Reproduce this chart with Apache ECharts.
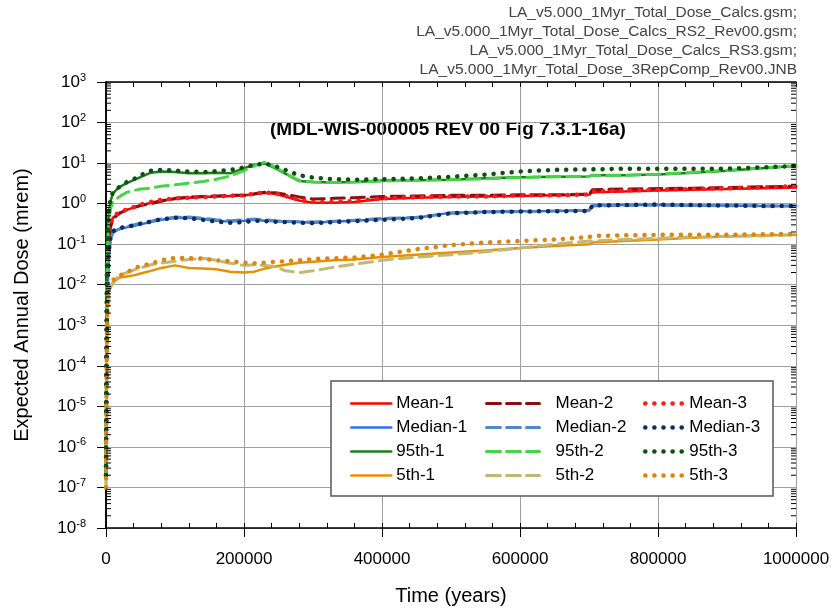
<!DOCTYPE html>
<html>
<head>
<meta charset="utf-8">
<script src="https://cdn.jsdelivr.net/npm/echarts@6/dist/echarts.min.js"></script>
</head>
<body style="margin:0;background:#fff">
<div id="main" style="width: 838px;height:612px;"></div>
<script type="text/javascript">
    // time steps (years)
    var years = [0, 1000, 2000, 4000, 7000, 10000, 15000, 20000, 30000, 40000, 50000, 65000, 80000, 100000,
        120000, 140000, 160000, 180000, 200000, 215000, 230000, 245000, 260000, 280000, 300000, 330000, 360000,
        400000, 450000, 500000, 550000, 600000, 650000, 700000, 705000, 750000, 800000, 850000, 900000, 950000, 1000000];

    // expected annual dose (mrem)
    var mean1 = [2e-7, 0.001, 0.02, 0.12, 0.3, 0.45, 0.52, 0.6, 0.7, 0.8, 0.9, 1.05, 1.2, 1.3, 1.4, 1.45, 1.5, 1.55,
        1.6, 1.7, 1.85, 1.75, 1.5, 1.2, 1.05, 1.05, 1.1, 1.3, 1.4, 1.45, 1.5, 1.55, 1.6, 1.65, 1.9, 2.0, 2.1, 2.2, 2.3, 2.4, 2.5];
    var median1 = [2e-7, 3e-4, 0.005, 0.06, 0.15, 0.2, 0.22, 0.24, 0.26, 0.28, 0.31, 0.35, 0.4, 0.44, 0.45, 0.42, 0.38, 0.36,
        0.38, 0.4, 0.38, 0.37, 0.36, 0.35, 0.34, 0.36, 0.38, 0.42, 0.45, 0.6, 0.63, 0.65, 0.66, 0.68, 0.9, 0.92, 0.93, 0.9, 0.9, 0.88, 0.88];
    var p95_1 = [2e-7, 0.01, 0.1, 0.6, 1.2, 1.8, 2.2, 2.6, 3.2, 3.8, 4.5, 5.8, 6.2, 6.0, 5.6, 5.6, 5.8, 5.6,
        7.5, 9.0, 9.8, 7.5, 5.5, 3.6, 3.4, 3.3, 3.4, 3.7, 3.8, 3.9, 4.2, 4.5, 4.6, 4.7, 5.0, 5.0, 5.2, 5.8, 6.5, 7.5, 8.5];
    var p5_1 = [1e-7, 1e-4, 0.002, 0.007, 0.009, 0.011, 0.013, 0.015, 0.016, 0.017, 0.019, 0.022, 0.026, 0.03, 0.026, 0.025, 0.024, 0.021,
        0.02, 0.021, 0.025, 0.028, 0.031, 0.035, 0.037, 0.04, 0.042, 0.048, 0.055, 0.062, 0.07, 0.08, 0.09, 0.1, 0.11, 0.12, 0.13, 0.145, 0.155, 0.165, 0.17];

    var mean2 = [2e-7, 0.001, 0.018, 0.12, 0.28, 0.4, 0.5, 0.58, 0.7, 0.8, 0.9, 1.0, 1.15, 1.35, 1.45, 1.5, 1.55, 1.6,
        1.6, 1.75, 1.9, 1.85, 1.7, 1.45, 1.3, 1.35, 1.4, 1.5, 1.55, 1.6, 1.6, 1.65, 1.65, 1.7, 2.2, 2.3, 2.35, 2.4, 2.5, 2.6, 2.7];
    var median2 = [2e-7, 2.5e-4, 0.004, 0.05, 0.14, 0.19, 0.22, 0.24, 0.27, 0.3, 0.33, 0.37, 0.42, 0.46, 0.47, 0.44, 0.4, 0.38,
        0.4, 0.42, 0.4, 0.38, 0.37, 0.36, 0.35, 0.37, 0.39, 0.43, 0.46, 0.58, 0.62, 0.64, 0.66, 0.68, 0.88, 0.9, 0.92, 0.9, 0.89, 0.88, 0.87];
    var p95_2 = [2e-7, 0.008, 0.08, 0.4, 0.8, 1.1, 1.3, 1.5, 1.9, 2.1, 2.3, 2.4, 2.7, 2.9, 3.2, 3.5, 4.0, 4.8,
        6.5, 8.5, 10.5, 8.0, 5.6, 3.7, 3.4, 3.3, 3.4, 3.6, 3.8, 3.9, 4.1, 4.4, 4.6, 4.7, 5.0, 5.0, 5.3, 5.9, 6.6, 7.6, 8.6];
    var p5_2 = [1e-7, 1e-4, 0.002, 0.006, 0.009, 0.011, 0.014, 0.017, 0.02, 0.023, 0.026, 0.031, 0.034, 0.038, 0.042, 0.045, 0.04, 0.034,
        0.03, 0.031, 0.03, 0.028, 0.022, 0.02, 0.022, 0.027, 0.032, 0.04, 0.048, 0.055, 0.065, 0.08, 0.1, 0.12, 0.12, 0.13, 0.14, 0.15, 0.155, 0.16, 0.17];

    var mean3 = [2e-7, 0.0012, 0.022, 0.15, 0.32, 0.48, 0.55, 0.62, 0.72, 0.82, 0.95, 1.1, 1.25, 1.35, 1.4, 1.45, 1.5, 1.55,
        1.6, 1.75, 1.9, 1.8, 1.55, 1.25, 1.1, 1.1, 1.15, 1.35, 1.45, 1.5, 1.5, 1.6, 1.6, 1.7, 2.0, 2.1, 2.2, 2.3, 2.4, 2.5, 2.7];
    var median3 = [2e-7, 3.5e-4, 0.006, 0.07, 0.16, 0.21, 0.23, 0.25, 0.27, 0.29, 0.32, 0.36, 0.41, 0.45, 0.44, 0.4, 0.36, 0.34,
        0.35, 0.38, 0.37, 0.36, 0.35, 0.34, 0.33, 0.35, 0.37, 0.4, 0.44, 0.58, 0.62, 0.64, 0.65, 0.66, 0.9, 0.93, 0.95, 0.92, 0.9, 0.88, 0.88];
    var p95_3 = [2e-7, 0.012, 0.12, 0.7, 1.4, 1.9, 2.3, 2.6, 3.4, 4.0, 5.0, 6.5, 6.8, 6.5, 6.2, 6.0, 6.3, 6.8,
        7.8, 9.0, 9.8, 8.5, 6.8, 5.0, 4.4, 4.0, 3.9, 4.0, 4.2, 4.6, 5.2, 6.2, 6.8, 7.0, 7.0, 7.3, 7.3, 7.2, 7.3, 7.8, 8.5];
    var p5_3 = [1e-7, 1.5e-4, 0.003, 0.008, 0.011, 0.013, 0.015, 0.017, 0.02, 0.025, 0.029, 0.033, 0.04, 0.046, 0.045, 0.044, 0.04, 0.038,
        0.035, 0.034, 0.035, 0.037, 0.038, 0.04, 0.043, 0.045, 0.047, 0.055, 0.075, 0.095, 0.11, 0.12, 0.13, 0.15, 0.16, 0.165, 0.17, 0.17, 0.17, 0.175, 0.18];

    var fileNames = [
        'LA_v5.000_1Myr_Total_Dose_Calcs.gsm;',
        'LA_v5.000_1Myr_Total_Dose_Calcs_RS2_Rev00.gsm;',
        'LA_v5.000_1Myr_Total_Dose_Calcs_RS3.gsm;',
        'LA_v5.000_1Myr_Total_Dose_3RepComp_Rev00.JNB'
    ];

    var FONT = 'Liberation Sans, Arial, sans-serif';
    var SOLID = 'solid';
    var DASH = [13, 7];
    var DOT = [0.1, 9];

    // name, values, colour, dash, width
    var lines = [
        ['Mean-1', mean1, '#ff0000', SOLID, 2.5],
        ['Median-1', median1, '#2f6fe6', SOLID, 2.5],
        ['95th-1', p95_1, '#1a7f1a', SOLID, 2.5],
        ['5th-1', p5_1, '#e89000', SOLID, 2.5],
        ['Mean-2', mean2, '#8b1010', DASH, 3],
        ['Median-2', median2, '#5089c6', DASH, 3],
        ['95th-2', p95_2, '#44d444', DASH, 3],
        ['5th-2', p5_2, '#c2b874', DASH, 3],
        ['Mean-3', mean3, '#ff1a1a', DOT, 4.5],
        ['Median-3', median3, '#102c5e', DOT, 4.5],
        ['95th-3', p95_3, '#0c520c', DOT, 4.5],
        ['5th-3', p5_3, '#e0840a', DOT, 4.5]
    ];

    var series = lines.map(function (l) {
        return {
            name: l[0],
            type: 'line',
            symbol: 'none',
            showSymbol: false,
            silent: true,
            z: 3,
            lineStyle: {color: l[2], width: l[4], type: l[3], cap: 'round'},
            itemStyle: {color: l[2]},
            data: years.map(function (t, i) { return [t, l[1][i]]; })
        };
    });

    // log minor ticks (2..9 x 10^k) on left and right axes
    var minorVals = [];
    for (var k = -8; k < 3; k++) {
        for (var m = 2; m < 10; m++) minorVals.push([0, m * Math.pow(10, k)]);
    }
    series.push({
        type: 'custom',
        silent: true,
        z: 4,
        renderItem: function (params, api) {
            var y = api.coord([0, api.value(1)])[1];
            var x0 = params.coordSys.x, x1 = x0 + params.coordSys.width;
            return {
                type: 'group',
                children: [
                    {type: 'line', shape: {x1: x0, y1: y, x2: x0 + 5, y2: y}, style: {stroke: '#000', lineWidth: 1}},
                    {type: 'line', shape: {x1: x1 - 5, y1: y, x2: x1, y2: y}, style: {stroke: '#000', lineWidth: 1}}
                ]
            };
        },
        data: minorVals
    });

    // first, last, left, text padding, icon width, dash, line width
    var legendCols = [[0, 4, 345, 0, 40, SOLID, 2.5], [4, 8, 480, 11, 53, [14, 6], 3], [8, 12, 638, 0, 39, [0.1, 9], 4.5]];
    var legends = legendCols.map(function (c) {
        return {
            orient: 'vertical',
            left: c[2],
            top: 390,
            z: 10,
            itemWidth: c[4],
            itemHeight: 14,
            itemGap: 7,
            selectedMode: false,
            itemStyle: {opacity: 0},
            lineStyle: {width: c[6], type: c[5], cap: 'round'},
            textStyle: {fontSize: 17, lineHeight: 14, color: '#000', fontFamily: FONT, padding: [0, 0, 0, c[3]]},
            data: lines.slice(c[0], c[1]).map(function (l) { return l[0]; })
        };
    });

    var graphics = [{
        type: 'rect',
        shape: {x: 331, y: 381, width: 442, height: 115},
        style: {fill: '#fff', stroke: '#555', lineWidth: 1.5},
        z: 5
    }, {
        type: 'text',
        left: 270,
        top: 120,
        style: {text: '(MDL-WIS-000005 REV 00 Fig 7.3.1-16a)', font: 'bold 19px ' + FONT, fill: '#000'}
    }];
    fileNames.forEach(function (f, i) {
        graphics.push({
            type: 'text',
            x: 797,
            y: 13 + i * 19,
            style: {text: f, font: '15.5px ' + FONT, fill: '#444', align: 'right', verticalAlign: 'middle'}
        });
    });

    var myChart = echarts.init(document.getElementById('main'));
    var option = {
        backgroundColor: '#fff',
        animation: false,
        grid: {left: 106, right: 42, top: 82, bottom: 84, containLabel: false},
        graphic: graphics,
        legend: legends,
        xAxis: [{
            type: 'value',
            min: 0,
            max: 1000000,
            interval: 200000,
            position: 'bottom',
            name: 'Time (years)',
            nameLocation: 'middle',
            nameGap: 58,
            nameTextStyle: {fontSize: 20, color: '#000', fontFamily: FONT},
            axisLine: {lineStyle: {color: '#000', width: 1.5}},
            axisTick: {inside: false, length: 9, lineStyle: {color: '#000'}},
            axisLabel: {
                fontSize: 17, color: '#000', margin: 23, fontFamily: FONT,
                formatter: function (v) { return String(v); }
            },
            splitLine: {show: true, lineStyle: {color: '#a0a0a0', width: 1}}
        }, {
            type: 'value',
            min: 0,
            max: 1000000,
            interval: 40000,
            position: 'bottom',
            axisLine: {show: false},
            axisTick: {inside: true, length: 5, lineStyle: {color: '#000'}},
            axisLabel: {show: false},
            splitLine: {show: false}
        }, {
            type: 'value',
            min: 0,
            max: 1000000,
            interval: 40000,
            position: 'top',
            axisLine: {lineStyle: {color: '#000', width: 1.5}},
            axisTick: {inside: true, length: 5, lineStyle: {color: '#000'}},
            axisLabel: {show: false},
            splitLine: {show: false}
        }],
        yAxis: [{
            type: 'log',
            logBase: 10,
            min: 1e-8,
            max: 1e3,
            interval: 1,
            position: 'left',
            name: 'Expected Annual Dose (mrem)',
            nameLocation: 'middle',
            nameGap: 74,
            nameRotate: 90,
            nameTextStyle: {fontSize: 20, color: '#000', fontFamily: FONT},
            axisLine: {show: true, lineStyle: {color: '#000', width: 1.5}},
            axisTick: {show: true, inside: false, length: 9, lineStyle: {color: '#000'}},
            axisLabel: {
                margin: 20,
                fontFamily: FONT,
                formatter: function (v) {
                    var e = Math.round(Math.log(v) / Math.LN10);
                    return '{b|10}{s|' + e + '}';
                },
                rich: {
                    b: {fontSize: 17, color: '#000', fontFamily: FONT},
                    s: {fontSize: 11, color: '#000', fontFamily: FONT, padding: [0, 0, 9, 0]}
                }
            },
            splitLine: {show: true, lineStyle: {color: '#a0a0a0', width: 1}}
        }, {
            type: 'log',
            logBase: 10,
            min: 1e-8,
            max: 1e3,
            interval: 1,
            position: 'right',
            axisLine: {show: true, lineStyle: {color: '#000', width: 1.5}},
            axisTick: {show: true, inside: true, length: 8, lineStyle: {color: '#000'}},
            axisLabel: {show: false},
            splitLine: {show: false}
        }],
        series: series
    };
    myChart.setOption(option);
</script>
</body>
</html>
